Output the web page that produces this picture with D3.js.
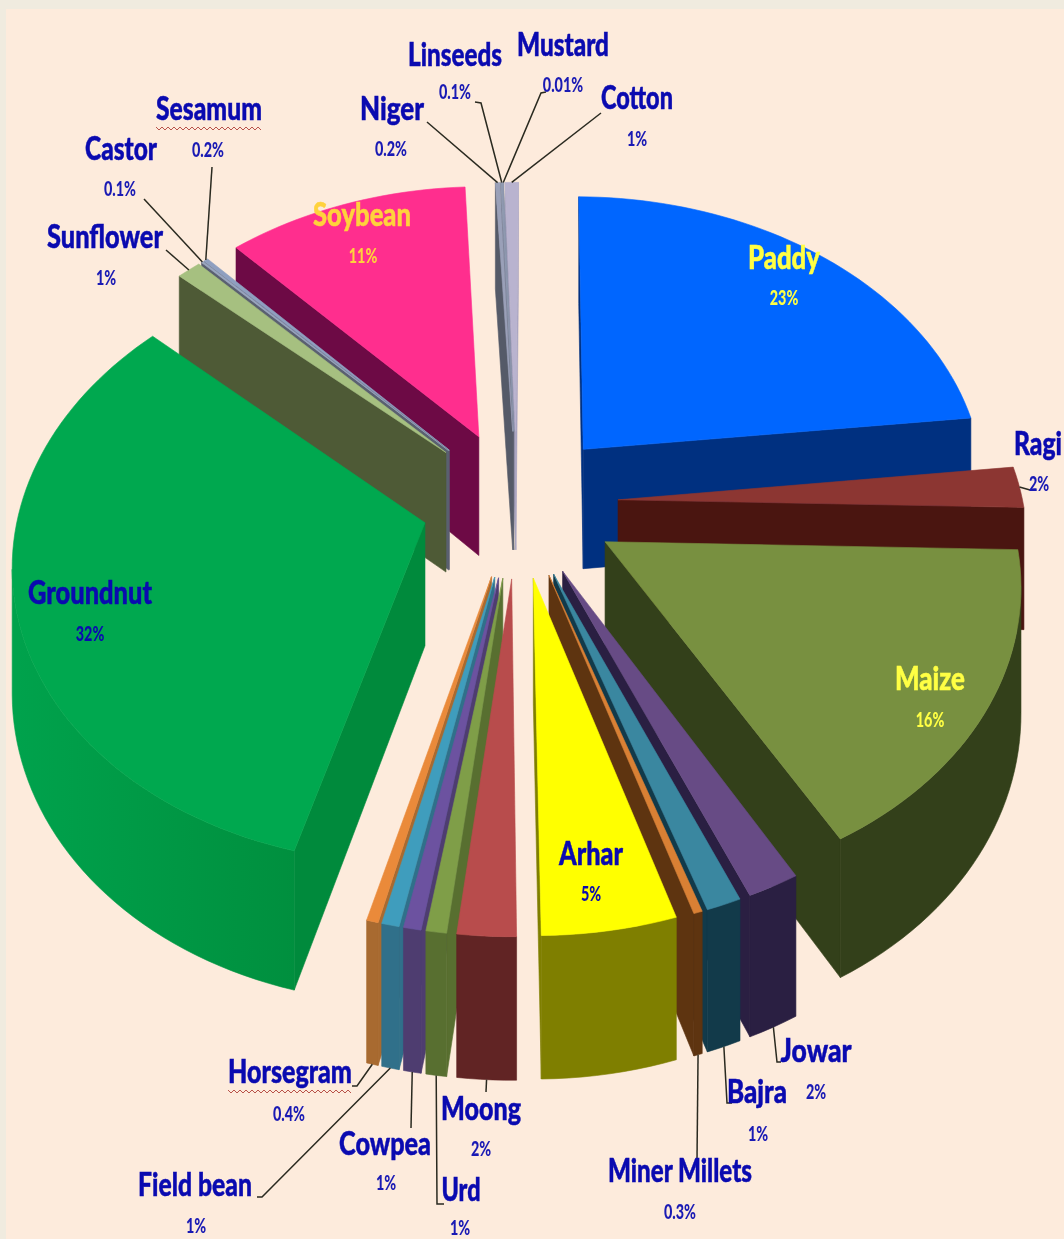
<!DOCTYPE html>
<html>
<head>
<meta charset="utf-8">
<script src="https://cdn.jsdelivr.net/npm/d3@7"></script>
<style>
  html, body { margin: 0; padding: 0; background: #f0ebdf; }
  svg { display: block; }
</style>
</head>
<body>
<script>
const categories = ['Paddy', 'Ragi', 'Maize', 'Jowar', 'Bajra', 'Miner Millets', 'Arhar', 'Moong', 'Urd', 'Cowpea', 'Field bean', 'Horsegram', 'Groundnut', 'Sunflower', 'Castor', 'Sesamum', 'Soybean', 'Niger', 'Linseeds', 'Mustard', 'Cotton'];
// printed labels are rounded, the values are estimated from the slice widths
const pctLabels = ['23%', '2%', '16%', '2%', '1%', '0.3%', '5%', '2%', '1%', '1%', '1%', '0.4%', '32%', '1%', '0.1%', '0.2%', '11%', '0.2%', '0.1%', '0.01%', '1%'];
const values = [23, 2.2, 16.4, 1.8, 1.2, 0.3, 4.6, 2, 0.7, 0.6, 0.6, 0.4, 32.49, 1.1, 0.1, 0.2, 11, 0.2, 0.1, 0.01, 0.6];
const topColours = ['#0066ff', '#8c3632', '#789040', '#674b85', '#3a87a0', '#d98034', '#ffff00', '#b84c4c', '#7f9e48', '#6c52a0', '#3f9dbd', '#ea8a3a', '#00a84f', '#a6c080', '#9aa6c0', '#8f9fc0', '#ff2e8e', '#9aa0b8', '#8f99b0', '#8f99b0', '#b9b3cf'];
const sideColours = ['#003080', '#4a1510', '#33401a', '#2a1f42', '#123a4a', '#5e3410', '#7f7f00', '#612424', '#586f30', '#4e3d70', '#30708a', '#a86a30', '#008a3c', '#4e5a36', '#5a6070', '#5a6070', '#6d0a45', '#555a68', '#5f6474', '#666a78', '#a8a3c0'];

// name: [centre x, baseline y, width], pct: [centre x, baseline y]
const nameBoxes = {
  Paddy: [784, 269, 72], Ragi: [1038, 455, 48], Maize: [930, 690, 70], Jowar: [816, 1062, 71], Bajra: [757, 1103, 60],
  'Miner Millets': [680, 1182, 144], Arhar: [591, 865, 64], Moong: [481, 1120, 80], Urd: [461, 1201, 39], Cowpea: [385, 1155, 92],
  'Field bean': [195, 1196, 114], Horsegram: [290, 1083, 124], Groundnut: [90, 604, 124], Sunflower: [105, 248, 116],
  Castor: [121, 160, 72], Sesamum: [209, 120, 106], Soybean: [362, 226, 98], Niger: [392, 120, 64], Linseeds: [455, 66, 94],
  Mustard: [563, 56, 92], Cotton: [637, 109, 72]
};
const pctBoxes = {
  Paddy: [784, 305], Ragi: [1039, 491], Maize: [930, 727], Jowar: [816, 1099], Bajra: [758, 1141],
  'Miner Millets': [680, 1219], Arhar: [591, 901], Moong: [481, 1156], Urd: [460, 1235], Cowpea: [386, 1190],
  'Field bean': [196, 1233], Horsegram: [289, 1121], Groundnut: [90, 641], Sunflower: [106, 285],
  Castor: [120, 196], Sesamum: [208, 157], Soybean: [363, 263], Niger: [391, 156], Linseeds: [455, 99],
  Mustard: [563, 92], Cotton: [637, 146]
};
const insideColours = { Paddy: '#ffff44', Maize: '#ffff44', Soybean: '#ffd23c', Arhar: '#0a0ab0', Groundnut: '#0a0ab0' };

// free end of each leader, elbow first when there is one
const leaderEnds = {
  Ragi: [[1030, 490]], Jowar: [[777, 1062], [781, 1062]], Bajra: [[727, 1103], [732, 1103]], 'Miner Millets': [[697, 1160]],
  Moong: [[486, 1092]], Urd: [[437, 1204], [444, 1204]], Cowpea: [[411, 1128]], 'Field bean': [[262, 1197], [257, 1197]],
  Horsegram: [[357, 1086], [352, 1086]], Sunflower: [[166, 250]], Castor: [[144, 199]], Sesamum: [[212, 167]],
  Niger: [[427, 122]], Linseeds: [[481, 103], [475, 102]], Mustard: [[541, 93], [546, 92]], Cotton: [[601, 113]]
};
const squiggled = ['Sesamum', 'Horsegram'];

const width = 1064;
const height = 1239;
const explode = 0.25;
const groundnutExplode = 0.235;  // pulled out a bit less than the rest
const perspective = 0.12;
const depth = 122;

const svg = d3.select('body').append('svg').attr('width', width).attr('height', height);
svg.append('rect').attr('x', 6).attr('y', 9).attr('width', width - 6).attr('height', height - 9).attr('fill', '#fdebdc');

const wallGradient = svg.append('defs').append('linearGradient')
  .attr('id', 'groundnutWall')
  .attr('gradientUnits', 'userSpaceOnUse')
  .attr('x1', 15).attr('x2', 300).attr('y1', 0).attr('y2', 0);
wallGradient.append('stop').attr('offset', 0).attr('stop-color', '#00a24c');
wallGradient.append('stop').attr('offset', 1).attr('stop-color', '#008f3e');

const xScale = d3.scaleLinear().domain([-1, 1]).range([517 - 405, 517 + 405]);
const yScale = d3.scaleLinear().domain([-1, 1]).range([503 - 295, 503 + 295]);

function project (X, Y, bottom) {
  const s = 1 / (1 - perspective * Y);
  return [xScale(X * s), yScale(Y * s) + (bottom ? depth * s : 0)];
}

const rotation = 0.4 * Math.PI / 180;
const pie = d3.pie().sort(null).startAngle(rotation).endAngle(rotation + 2 * Math.PI).value((d) => d);
const slices = pie(values).map((d, i) => {
  const mid = (d.startAngle + d.endAngle) / 2;
  const e = categories[i] === 'Groundnut' ? groundnutExplode : explode;
  return { ...d, i, mid, ox: e * Math.sin(mid), oy: -e * Math.cos(mid) };
});

const arcPoint = (d, a, bottom) => project(d.ox + Math.sin(a), d.oy - Math.cos(a), bottom);
const apex = (d, bottom) => project(d.ox, d.oy, bottom);
const line = d3.line().curve(d3.curveLinearClosed);

function facesOf (d) {
  const faces = [];
  const side = sideColours[d.i];
  const startWall = [apex(d), arcPoint(d, d.startAngle), arcPoint(d, d.startAngle, true), apex(d, true)];
  const endWall = [apex(d), arcPoint(d, d.endAngle), arcPoint(d, d.endAngle, true), apex(d, true)];
  // d3.polygonArea is positive for the faces turned to the viewer here
  if (d3.polygonArea(startWall) > 0) faces.push({ pts: startWall, fill: side });
  if (d3.polygonArea(endWall) < 0) faces.push({ pts: endWall, fill: side });

  const steps = Math.max(1, Math.ceil((d.endAngle - d.startAngle) / 0.03));
  const angles = d3.range(steps + 1).map((k) => d.startAngle + (d.endAngle - d.startAngle) * k / steps);

  // the part of the outer wall that faces us, as one polygon
  const seen = d3.pairs(angles).filter(([a0, a1]) => {
    return d3.polygonArea([arcPoint(d, a0), arcPoint(d, a1), arcPoint(d, a1, true), arcPoint(d, a0, true)]) > 0;
  });
  if (seen.length) {
    const run = [seen[0][0]].concat(seen.map((p) => p[1]));
    const pts = run.map((a) => arcPoint(d, a)).concat(run.slice().reverse().map((a) => arcPoint(d, a, true)));
    faces.push({ pts, fill: categories[d.i] === 'Groundnut' ? 'url(#groundnutWall)' : side });
  }

  const top = [apex(d)].concat(angles.map((a) => arcPoint(d, a)));
  faces.push({ pts: top, fill: topColours[d.i] });
  return faces;
}

const ordered = slices.slice().sort((a, b) => a.oy - b.oy);
const chart = svg.append('g').style('filter', 'blur(0.5px)');

chart.selectAll('g.slice')
  .data(ordered)
  .join('g')
  .attr('class', 'slice')
  .selectAll('path')
  .data(facesOf)
  .join('path')
  .attr('d', (f) => line(f.pts))
  .attr('fill', (f) => f.fill)
  .attr('stroke', (f) => f.fill)
  .attr('stroke-width', 0.6);

// leaders
const leaders = slices.filter((d) => leaderEnds[categories[d.i]]);
chart.selectAll('path.leader')
  .data(leaders)
  .join('path')
  .attr('class', 'leader')
  .attr('d', (d) => {
    const start = arcPoint(d, d.mid, d.oy > 0);
    return d3.line()([start].concat(leaderEnds[categories[d.i]]));
  })
  .attr('fill', 'none')
  .attr('stroke', '#2a2a20')
  .attr('stroke-width', 1.5);

// text: squeeze horizontally with a transform, no narrow geometric font is installed
const labelFont = 'Lato, "Open Sans", sans-serif';
const texts = svg.append('g').style('filter', 'blur(0.4px)');

texts.selectAll('text.name')
  .data(categories)
  .join('text')
  .attr('class', 'name')
  .attr('text-anchor', 'middle')
  .attr('font-family', labelFont)
  .attr('font-weight', 900)
  .attr('font-size', 32)
  .attr('fill', (c) => insideColours[c] || '#0a0ab0')
  .attr('stroke', (c) => insideColours[c] || '#0a0ab0')
  .attr('stroke-width', 0.5)
  .text((c) => c)
  .each(function (c) {
    const [x, y, w] = nameBoxes[c];
    d3.select(this).attr('transform', `translate(${x},${y}) scale(${w / this.getComputedTextLength()},1)`);
  });

texts.selectAll('text.pct')
  .data(categories)
  .join('text')
  .attr('class', 'pct')
  .attr('text-anchor', 'middle')
  .attr('font-family', labelFont)
  .attr('font-weight', 900)
  .attr('font-size', 20)
  .attr('fill', (c) => insideColours[c] || '#1a1ab4')
  .text((c, i) => pctLabels[i])
  .attr('transform', (c) => `translate(${pctBoxes[c][0]},${pctBoxes[c][1]}) scale(0.72,1)`);

// spell-check squiggles, they are in the source picture
texts.selectAll('path.squiggle')
  .data(squiggled)
  .join('path')
  .attr('class', 'squiggle')
  .attr('d', (c) => {
    const [cx, y, w] = nameBoxes[c];
    const pts = d3.range(0, w + 1, 3).map((dx, k) => [cx - w / 2 + dx, y + 8 + (k % 2 ? 2 : -1)]);
    return d3.line()(pts);
  })
  .attr('fill', 'none')
  .attr('stroke', '#b9534a')
  .attr('stroke-width', 1);
</script>
</body>
</html>
